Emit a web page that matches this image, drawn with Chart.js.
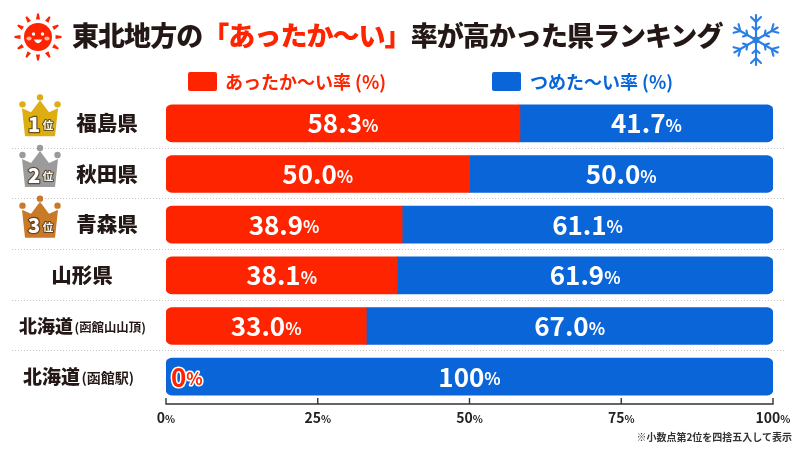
<!DOCTYPE html>
<html lang="ja">
<head>
<meta charset="utf-8">
<title>東北地方の「あったか～い」率が高かった県ランキング</title>
<script src="https://cdn.jsdelivr.net/npm/chart.js@4"></script>
<style>
	html, body { margin: 0; padding: 0; background: #fff; }
	body { position: relative; width: 800px; height: 450px; overflow: hidden; font-family: "Noto Sans CJK JP", sans-serif; }
	canvas { position: absolute; left: 0; top: 0; }
	svg { position: absolute; }
	.title { position: absolute; left: 72px; top: 13px; font-size: 27px; line-height: 44px; font-weight: 900; color: #231815; white-space: nowrap; letter-spacing: -0.95px; }
	.title b { color: #ff2400; font-weight: 900; }
	.swatch { position: absolute; top: 72px; width: 29px; height: 19px; border-radius: 2px; }
	.legend { position: absolute; top: 69px; font-size: 18px; line-height: 25px; font-weight: 700; white-space: nowrap; }
	.note { position: absolute; right: 8px; top: 429px; font-size: 10px; line-height: 16px; font-weight: 700; color: #333; white-space: nowrap; }
</style>
</head>
<body>
<canvas id="rankChart" width="800" height="450"></canvas>

<svg style="left:10px;top:9px" width="56" height="56" viewBox="-28 -28 56 56">
	<defs><path id="ray" d="M-2 -17.5 L-0.9 -23.5 L0.9 -23.5 L2 -17.5 Z" fill="#ff2400"/></defs>
	<use href="#ray"/><use href="#ray" transform="rotate(30)"/><use href="#ray" transform="rotate(60)"/><use href="#ray" transform="rotate(90)"/>
	<use href="#ray" transform="rotate(120)"/><use href="#ray" transform="rotate(150)"/><use href="#ray" transform="rotate(180)"/><use href="#ray" transform="rotate(210)"/>
	<use href="#ray" transform="rotate(240)"/><use href="#ray" transform="rotate(270)"/><use href="#ray" transform="rotate(300)"/><use href="#ray" transform="rotate(330)"/>
	<circle r="14" fill="#ff2400"/>
	<circle cx="-4.5" cy="-3" r="1.7" fill="#fff"/><circle cx="4.5" cy="-3" r="1.7" fill="#fff"/>
	<ellipse cx="-9" cy="1.5" rx="2.6" ry="2.1" fill="#ffb3a0"/><ellipse cx="9" cy="1.5" rx="2.6" ry="2.1" fill="#ffb3a0"/>
	<path d="M-4.2 2.5 Q0 10 4.2 2.5 Z" fill="#fff"/>
</svg>

<svg style="left:728px;top:12px" width="56" height="56" viewBox="-28 -28 56 56">
	<defs><g id="arm" stroke="#2b7fe3" stroke-width="2.1" fill="none" stroke-linecap="round">
		<path d="M0 0 L0 -25"/><path d="M-5 -23 L0 -18 L5 -23"/><path d="M-3.5 -13 L0 -10 L3.5 -13"/>
	</g></defs>
	<use href="#arm"/><use href="#arm" transform="rotate(60)"/><use href="#arm" transform="rotate(120)"/>
	<use href="#arm" transform="rotate(180)"/><use href="#arm" transform="rotate(240)"/><use href="#arm" transform="rotate(300)"/>
	<circle r="3.4" fill="#2b7fe3"/>
</svg>

<div class="title">東北地方の<b>「あったか～い」</b>率が高かった県ランキング</div>
<div class="swatch" style="left:188px;background:#ff2400"></div>
<div class="legend" style="left:225px;color:#ff2400" id="legendWarm"></div>
<div class="swatch" style="left:492px;background:#0a66d8"></div>
<div class="legend" style="left:530px;color:#0a66d8" id="legendCold"></div>
<div class="note">※小数点第2位を四捨五入して表示</div>

<script>
// 数値は図中のラベルから読み取り
const categories = ["福島県", "秋田県", "青森県", "山形県", "北海道", "北海道"];
const categoryNotes = ["", "", "", "", "(函館山山頂)", "(函館駅)"];
const warmValues = [58.3, 50.0, 38.9, 38.1, 33.0, 0];
const coldValues = [41.7, 50.0, 61.1, 61.9, 67.0, 100];
const xTicks = [0, 25, 50, 75, 100];
const warmName = "あったか～い率 (%)";
const coldName = "つめた～い率 (%)";
const crownColors = ["#dcae12", "#9b9b9b", "#c97a28"];

const RED = "#ff2400";
const BLUE = "#0a66d8";
const FONT = '"Noto Sans CJK JP", sans-serif';

document.getElementById("legendWarm").textContent = warmName;
document.getElementById("legendCold").textContent = coldName;

function fmt(v) {
	return (v === 0 || v === 100) ? String(v) : v.toFixed(1);
}

// 数字と小さい%を並べて描く
function drawPercent(ctx, num, big, small, x, y, color, left, outline) {
	ctx.textBaseline = "middle";
	ctx.textAlign = "left";
	ctx.font = "700 " + big + "px " + FONT;
	const w1 = ctx.measureText(num).width;
	ctx.font = "700 " + small + "px " + FONT;
	const w2 = ctx.measureText("%").width;
	const x0 = left ? x : x - (w1 + w2) / 2;
	const parts = [[num, big, x0], ["%", small, x0 + w1]];
	parts.forEach(p => {
		ctx.font = "700 " + p[1] + "px " + FONT;
		const py = y + (p[1] === small ? (big - small) * 0.26 : 0);
		if (outline) {
			ctx.strokeStyle = outline;
			ctx.lineWidth = 3;
			ctx.lineJoin = "round";
			ctx.strokeText(p[0], p[2], py);
		}
		ctx.fillStyle = color;
		ctx.fillText(p[0], p[2], py);
	});
}

function drawCrown(ctx, cx, cy, color, rank) {
	ctx.save();
	ctx.translate(cx, cy);
	ctx.fillStyle = color;
	[[-17.5, -19], [0, -26], [17.5, -19]].forEach(b => {
		ctx.beginPath();
		ctx.arc(b[0], b[1], 3.2, 0, Math.PI * 2);
		ctx.fill();
	});
	ctx.beginPath();
	ctx.moveTo(-18, -15);
	ctx.lineTo(-9, -11);
	ctx.lineTo(0, -23);
	ctx.lineTo(9, -11);
	ctx.lineTo(18, -15);
	ctx.lineTo(15, 13);
	ctx.lineTo(-15, 13);
	ctx.closePath();
	ctx.fill();
	ctx.textAlign = "center";
	ctx.textBaseline = "middle";
	ctx.lineJoin = "round";
	ctx.strokeStyle = "rgba(70,50,20,0.75)";
	ctx.fillStyle = "#fff";
	ctx.lineWidth = 2.5;
	ctx.font = "900 20px " + FONT;
	ctx.strokeText(rank, -6, 1);
	ctx.fillText(rank, -6, 1);
	ctx.font = "700 10.5px " + FONT;
	ctx.lineWidth = 2;
	ctx.strokeText("位", 8, 2);
	ctx.fillText("位", 8, 2);
	ctx.restore();
}

const rowDecor = {
	id: "rowDecor",
	afterDatasetsDraw(chart) {
		const ctx = chart.ctx;
		const xs = chart.scales.x;
		const ys = chart.scales.y;
		ctx.save();

		// 行の区切り（点線）
		ctx.strokeStyle = "#c4c4c4";
		ctx.lineWidth = 1;
		ctx.setLineDash([1, 2]);
		for (let i = 0; i < categories.length - 1; i++) {
			const y = Math.round((ys.getPixelForValue(i) + ys.getPixelForValue(i + 1)) / 2) - 0.5;
			ctx.beginPath();
			ctx.moveTo(12, y);
			ctx.lineTo(786, y);
			ctx.stroke();
		}
		ctx.setLineDash([]);

		// 県名と王冠
		categories.forEach((name, i) => {
			const y = ys.getPixelForValue(i);
			const note = categoryNotes[i];
			ctx.fillStyle = "#231815";
			ctx.textBaseline = "middle";
			if (note) {
				const big = i === 4 ? 18 : 19;
				const small = i === 4 ? 12.4 : 14;
				const left = i === 4 ? 19 : 23;
				ctx.textAlign = "left";
				ctx.font = "900 " + big + "px " + FONT;
				const w = ctx.measureText(name).width;
				ctx.fillText(name, left, y);
				ctx.font = "700 " + small + "px " + FONT;
				ctx.fillText(note, left + w + 1.5, y + 1);
			} else {
				ctx.textAlign = "center";
				ctx.font = "900 20.5px " + FONT;
				ctx.fillText(name, i < 3 ? 107 : 82, y);
			}
			if (i < 3) drawCrown(ctx, 40, y, crownColors[i], String(i + 1));
		});

		// 棒の中のラベル
		const warmBars = chart.getDatasetMeta(0).data;
		const coldBars = chart.getDatasetMeta(1).data;
		categories.forEach((name, i) => {
			const y = ys.getPixelForValue(i);
			if (warmValues[i] > 0) {
				drawPercent(ctx, fmt(warmValues[i]), 26, 17, (warmBars[i].base + warmBars[i].x) / 2, y, "#fff");
			} else {
				drawPercent(ctx, fmt(warmValues[i]), 26, 17, xs.getPixelForValue(0) + 5, y, RED, true, "#fff");
			}
			drawPercent(ctx, fmt(coldValues[i]), 26, 17, (coldBars[i].base + coldBars[i].x) / 2, y, "#fff");
		});

		// 下の軸
		const axisY = 404;
		ctx.strokeStyle = "#333";
		ctx.lineWidth = 1.4;
		ctx.beginPath();
		ctx.moveTo(xs.getPixelForValue(0), axisY);
		ctx.lineTo(xs.getPixelForValue(100), axisY);
		xTicks.forEach(t => {
			const x = xs.getPixelForValue(t);
			ctx.moveTo(x, axisY + 0.7);
			ctx.lineTo(x, axisY - 6);
		});
		ctx.stroke();
		xTicks.forEach(t => {
			drawPercent(ctx, String(t), 14, 10.5, xs.getPixelForValue(t), 418, "#222");
		});
		ctx.restore();
	}
};

new Chart(document.getElementById("rankChart"), {
	type: "bar",
	data: {
		labels: categories,
		datasets: [
			{
				label: warmName,
				// 0の棒は描かない（青の左角を丸くするため）
				data: warmValues.map(v => v === 0 ? null : v),
				backgroundColor: RED,
				borderSkipped: false,
				borderRadius: { topLeft: 6, bottomLeft: 6, topRight: 0, bottomRight: 0 },
				barThickness: 37
			},
			{
				label: coldName,
				data: coldValues,
				backgroundColor: BLUE,
				borderSkipped: false,
				borderRadius: c => {
					const r = warmValues[c.dataIndex] === 0 ? 6 : 0;
					return { topLeft: r, bottomLeft: r, topRight: 6, bottomRight: 6 };
				},
				barThickness: 37
			}
		]
	},
	options: {
		indexAxis: "y",
		responsive: false,
		animation: false,
		layout: { padding: { left: 166, right: 27, top: 98, bottom: 48 } },
		plugins: { legend: { display: false }, tooltip: { enabled: false } },
		scales: {
			x: { stacked: true, min: 0, max: 100, display: false },
			y: { stacked: true, display: false }
		}
	},
	plugins: [rowDecor]
});
</script>
</body>
</html>
